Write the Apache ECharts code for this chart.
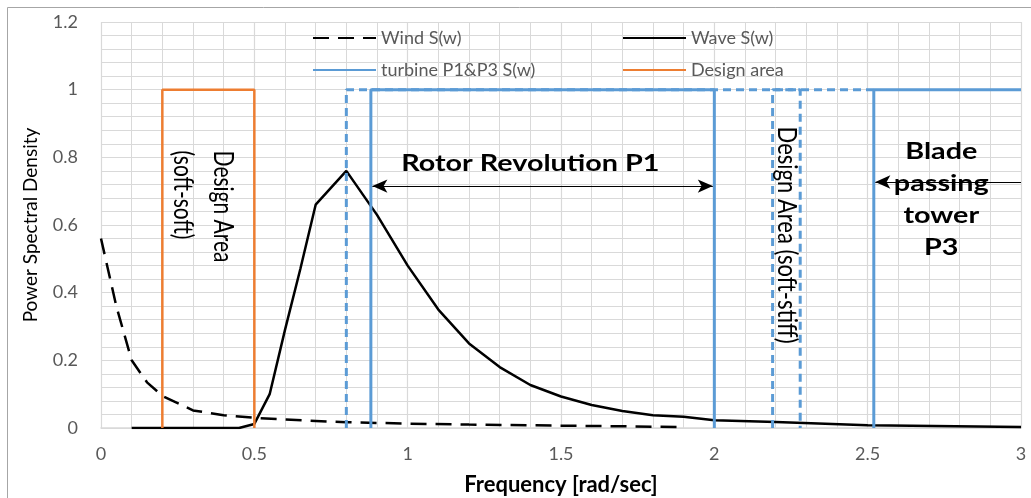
<!DOCTYPE html>
<html>
<head>
<meta charset="utf-8">
<script src="https://cdn.jsdelivr.net/npm/echarts@6/dist/echarts.min.js"></script>
<style>
  html, body { margin: 0; padding: 0; background: #fff; }
  #chart { width: 1031px; height: 498px; }
</style>
</head>
<body>
<div id="chart"></div>
<script>
// wind spectrum (dashed black)
const windX = [0, 0.05, 0.1, 0.15, 0.2, 0.3, 0.4, 0.5, 0.6, 0.7, 0.8, 1.0, 1.2, 1.4, 1.6, 1.8, 1.9];
const windY = [0.56, 0.36, 0.2, 0.135, 0.095, 0.052, 0.038, 0.03, 0.025, 0.021, 0.017, 0.013, 0.01, 0.008, 0.006, 0.004, 0.003];

// wave spectrum (solid black)
const waveX = [0.1, 0.2, 0.3, 0.4, 0.45, 0.5, 0.55, 0.6, 0.65, 0.7, 0.8, 0.9, 1.0, 1.1, 1.2, 1.3, 1.4, 1.5, 1.6, 1.7, 1.8, 1.9, 2.0, 2.2, 2.5, 3.0];
const waveY = [0, 0, 0, 0, 0, 0.012, 0.1, 0.29, 0.47, 0.66, 0.76, 0.63, 0.48, 0.35, 0.25, 0.18, 0.127, 0.093, 0.068, 0.05, 0.038, 0.033, 0.023, 0.018, 0.008, 0.003];

// turbine P1 / P3 bands (null = break in the line)
const turbineX = [0.88, 0.88, 2.0, 2.0, null, 2.52, 2.52, 3.0];
const turbineY = [0, 1, 1, 0, null, 0, 1, 1];
const p1EdgeX = [0.8, 0.8, 2.52];
const p1EdgeY = [0, 1, 1];
const stiffX = [2.19, 2.19, 2.28, 2.28];
const stiffY = [0, 1, 1, 0];

// design area soft-soft (orange)
const designX = [0.2, 0.2, 0.5, 0.5];
const designY = [0, 1, 1, 0];

const xTicks = [0, 0.5, 1, 1.5, 2, 2.5, 3];
const yTicks = [0, 0.2, 0.4, 0.6, 0.8, 1, 1.2];

const FONT = 'Lato, "Open Sans", sans-serif';
const BLUE = '#5b9bd5';
const ORANGE = '#ed7d31';
const GRID = '#d9d9d9';
const STRETCH = 1.25; // the reference text is drawn a bit wide

const pairs = (xs, ys) => xs.map((x, i) => (x === null ? ['-', '-'] : [x, ys[i]]));

const chart = echarts.init(document.getElementById('chart'));

const lineSeries = (name, xs, ys, color, type, width) => ({
  name: name,
  type: 'line',
  data: pairs(xs, ys),
  symbol: 'none',
  connectNulls: false,
  lineStyle: { color: color, width: width, type: type },
  itemStyle: { color: color },
  silent: true,
  animation: false
});

const legendBase = {
  orient: 'vertical',
  top: 24,
  itemWidth: 63,
  itemHeight: 14,
  itemGap: 14,
  selectedMode: false,
  itemStyle: { opacity: 0 },
  textStyle: { fontFamily: FONT, fontSize: 18, color: '#595959' }
};

const stiffSeries = lineSeries('stiff band', stiffX, stiffY, BLUE, [8, 5], 3);
const edgeSeries = lineSeries('P1 edge', p1EdgeX, p1EdgeY, BLUE, [8, 5], 3);
const turbineSeries = lineSeries('turbine P1&P3 S(w)', turbineX, turbineY, BLUE, 'solid', 3);
turbineSeries.markLine = {
  silent: true,
  animation: false,
  label: { show: false },
  lineStyle: { color: '#000', width: 1.2, type: 'solid' },
  symbolSize: [10, 15],
  data: [
    [{ coord: [0.885, 0.715], symbol: 'arrow' }, { coord: [1.995, 0.715], symbol: 'arrow' }],
    [{ coord: [3.0, 0.727], symbol: 'none' }, { coord: [2.525, 0.727], symbol: 'arrow' }]
  ]
};

chart.setOption({
  animation: false,
  backgroundColor: '#fff',
  grid: { left: 101, right: 10, top: 22, bottom: 70, outerBoundsMode: 'none', containLabel: false },
  legend: [
    Object.assign({}, legendBase, { left: 307, data: ['Wind S(w)', 'turbine P1&P3 S(w)'] }),
    Object.assign({}, legendBase, { left: 617, data: ['Wave S(w)', 'Design area'] })
  ],
  xAxis: {
    type: 'value',
    min: xTicks[0],
    max: xTicks[xTicks.length - 1],
    interval: 0.5,
    name: 'Frequency [rad/sec]',
    nameLocation: 'middle',
    nameGap: 46,
    nameTextStyle: { fontFamily: FONT, fontSize: 22, fontWeight: 'bold', color: '#000' },
    axisLine: { show: true, lineStyle: { color: GRID, width: 1.5 } },
    axisTick: { show: false },
    axisLabel: { fontFamily: FONT, fontSize: 18, color: '#595959', margin: 17 },
    splitLine: { show: true, lineStyle: { color: GRID, width: 1.2 } },
    minorTick: { show: false, splitNumber: 5 },
    minorSplitLine: { show: true, lineStyle: { color: GRID, width: 1 } }
  },
  yAxis: {
    type: 'value',
    min: yTicks[0],
    max: yTicks[yTicks.length - 1],
    interval: 0.2,
    name: 'Power Spectral Density',
    nameLocation: 'middle',
    nameGap: 61,
    nameTextStyle: { fontFamily: FONT, fontSize: 19, color: '#000' },
    axisLine: { show: false },
    axisTick: { show: false },
    axisLabel: { fontFamily: FONT, fontSize: 18, color: '#595959', margin: 23 },
    splitLine: { show: true, lineStyle: { color: GRID, width: 1.2 } },
    minorTick: { show: false, splitNumber: 5 },
    minorSplitLine: { show: true, lineStyle: { color: GRID, width: 1 } }
  },
  series: [
    lineSeries('Wind S(w)', windX, windY, '#000', [16, 9], 2.5),
    lineSeries('Wave S(w)', waveX, waveY, '#000', 'solid', 2.5),
    edgeSeries,
    stiffSeries,
    turbineSeries,
    lineSeries('Design area', designX, designY, ORANGE, 'solid', 2.5)
  ]
});

// text annotations anchored in data coordinates
const notes = [
  { text: 'Design Area\n(soft-soft)', at: [0.33, 0.82], rotate: true, align: 'left', bold: false, size: 21, lh: 32 },
  { text: 'Design Area (soft-stiff)', at: [2.235, 0.57], rotate: true, align: 'center', bold: false, size: 22, lh: 24 },
  { text: 'Rotor Revolution P1', at: [1.4, 0.783], rotate: false, align: 'center', bold: true, size: 23, lh: 26 },
  { text: 'Blade\npassing\ntower\nP3', at: [2.74, 0.674], rotate: false, align: 'center', bold: true, size: 23, lh: 32 }
];

const graphics = notes.map(n => {
  const p = chart.convertToPixel({ gridIndex: 0 }, n.at);
  return {
    type: 'text',
    x: p[0],
    y: p[1],
    rotation: n.rotate ? -Math.PI / 2 : 0,
    scaleX: n.rotate ? 1 : STRETCH,
    scaleY: n.rotate ? STRETCH : 1,
    silent: true,
    z: 100,
    style: {
      text: n.text,
      fontFamily: FONT,
      fontSize: n.size,
      fontWeight: n.bold ? 'bold' : 'normal',
      lineHeight: n.lh,
      fill: '#000',
      align: n.align,
      verticalAlign: 'middle'
    }
  };
});

graphics.push({
  type: 'rect',
  silent: true,
  z: -10,
  shape: { x: 7.5, y: 7.5, width: 1040, height: 520 },
  style: { fill: 'none', stroke: '#a6a6a6', lineWidth: 1 }
});

chart.setOption({ graphic: graphics });
</script>
</body>
</html>
